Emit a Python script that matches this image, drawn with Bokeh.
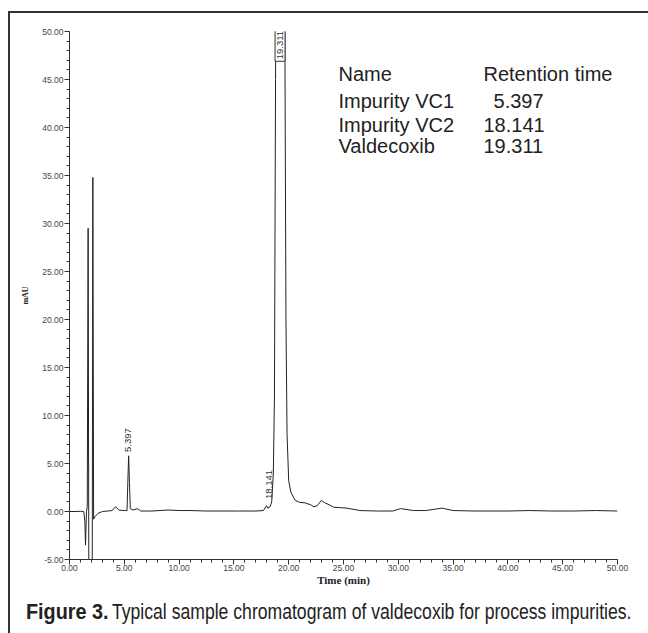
from bokeh.plotting import figure
from bokeh.models import Label, FixedTicker, NumeralTickFormatter, Range1d, Div
from bokeh.layouts import column
from bokeh.embed import file_html
from bokeh.resources import INLINE

# ---- data ----
time_min = [0.0, 0.5, 1.0, 1.30, 1.40, 1.46, 1.55, 1.62, 1.70, 1.77, 2.00, 2.07, 2.13, 2.20,
            2.35, 2.6, 3.0, 3.5, 3.9, 4.2, 4.5, 5.0, 5.25, 5.32, 5.397, 5.47, 5.55, 5.8,
            6.2, 6.5, 7.5, 9.0, 10.0, 11.0, 12.5, 14.0, 15.5, 17.0, 17.7, 17.97, 18.1,
            18.3, 18.45, 18.6, 18.7, 18.8, 18.9, 19.311, 19.55, 19.65, 19.75, 19.85,
            20.0, 20.2, 20.6, 21.0, 21.5, 22.0, 22.3, 22.6, 22.97, 23.3, 23.7, 24.1,
            25.3, 26.5, 28.0, 29.5, 30.2, 31.4, 32.5, 34.0, 35.0, 37.0, 40.0, 42.0,
            44.0, 46.0, 48.0, 50.0]
mau = [0.0, 0.0, 0.02, 0.0, -1.0, -3.5, 0.0, 0.5, 29.5, -10.0, -10.0, -10.0, 34.8, -0.8,
       -0.5, -0.2, 0.0, 0.05, 0.1, 0.5, 0.15, 0.1, 0.1, 3.0, 5.8, 3.0, 0.3, 0.15,
       0.3, 0.05, 0.05, 0.15, 0.1, 0.1, 0.05, 0.05, 0.05, 0.05, 0.1, 0.6, 0.35,
       0.5, 1.0, 4.0, 12.0, 45.0, 80.0, 120.0, 80.0, 50.0, 20.0, 8.0,
       3.2, 2.0, 1.15, 0.95, 0.9, 0.7, 0.5, 0.6, 1.15, 0.9, 0.7, 0.45,
       0.35, 0.1, 0.05, 0.05, 0.3, 0.1, 0.1, 0.35, 0.1, 0.05, 0.05, 0.1,
       0.05, 0.05, 0.1, 0.05]

x_ticks = [0, 5, 10, 15, 20, 25, 30, 35, 40, 45, 50]
y_ticks = [-5, 0, 5, 10, 15, 20, 25, 30, 35, 40, 45, 50]

peak_times = [5.397, 18.141, 19.311]
peak_labels = ["5.397", "18.141", "19.311"]

table_names = ["Impurity VC1", "Impurity VC2", "Valdecoxib"]
table_times = ["5.397", "18.141", "19.311"]

caption_bold = "Figure 3."
caption_rest = "Typical sample chromatogram of valdecoxib for process impurities."

# ---- figure ----
p = figure(width=648, height=595, output_backend="svg", toolbar_location=None,
           x_range=Range1d(0, 50), y_range=Range1d(-5, 50),
           min_border_left=69, min_border_right=31, min_border_top=31,
           min_border_bottom=36)
p.outline_line_color = None
p.grid.visible = False
p.background_fill_color = None
p.border_fill_color = None

p.line(time_min, mau, line_color="#222222", line_width=1)

tick_font = "Liberation Sans"
for ax in (p.xaxis[0], p.yaxis[0]):
    ax.axis_line_color = "#333333"
    ax.major_tick_line_color = "#333333"
    ax.minor_tick_line_color = "#333333"
    ax.major_tick_in = 0
    ax.major_tick_out = 5
    ax.minor_tick_in = 0
    ax.minor_tick_out = 3
    ax.major_label_text_font = tick_font
    ax.major_label_text_font_size = "8.5px"
    ax.major_label_text_color = "#444444"
    ax.formatter = NumeralTickFormatter(format="0.00")
    ax.axis_label_text_font = "Liberation Serif"
    ax.axis_label_text_font_style = "bold"
    ax.axis_label_text_color = "#222222"

p.xaxis.ticker = FixedTicker(ticks=x_ticks, minor_ticks=list(range(0, 51)))
p.yaxis.ticker = FixedTicker(ticks=y_ticks, minor_ticks=list(range(-5, 51)))
p.xaxis.axis_label = "Time (min)"
p.yaxis.axis_label = "mAU"
p.xaxis.axis_label_text_font_size = "11px"
p.yaxis.axis_label_text_font_size = "8px"
p.xaxis.major_label_standoff = 0
p.yaxis.major_label_standoff = 1
p.xaxis.axis_label_standoff = 0
p.yaxis.axis_label_standoff = 9

# peak labels
p.add_layout(Label(x=peak_times[0] - 0.02, y=6.2, text=peak_labels[0], angle=1.5708,
                   text_align="left", text_baseline="middle", text_font=tick_font,
                   text_font_size="9.5px", text_color="#333333"))
p.add_layout(Label(x=peak_times[1] + 0.1, y=1.3, text=peak_labels[1], angle=1.5708,
                   text_align="left", text_baseline="middle", text_font=tick_font,
                   text_font_size="9.5px", text_color="#333333"))
p.add_layout(Label(x=peak_times[2] - 0.1, y=46.9, text=peak_labels[2], angle=1.5708,
                   text_align="left", text_baseline="middle", text_font=tick_font,
                   text_font_size="9.5px", text_color="#333333",
                   background_fill_color="white", border_line_color="#333333",
                   border_line_width=1, padding=2))

# retention-time table
tfont = "Liberation Sans"
head_y = 45.56
p.add_layout(Label(x=24.54, y=head_y, text="Name", text_font=tfont,
                   text_font_size="20px", text_color="#222222", text_baseline="alphabetic"))
p.add_layout(Label(x=37.77, y=head_y, text="Retention time", text_font=tfont,
                   text_font_size="20px", text_color="#222222", text_baseline="alphabetic"))
row_y = [42.81, 40.31, 38.06]
row_tx = [38.69, 37.77, 37.77]
for name, rt, yy, tx in zip(table_names, table_times, row_y, row_tx):
    p.add_layout(Label(x=24.54, y=yy, text=name, text_font=tfont, text_font_size="20px",
                       text_color="#222222", text_baseline="alphabetic"))
    p.add_layout(Label(x=tx, y=yy, text=rt, text_font=tfont, text_font_size="20px",
                       text_color="#222222", text_baseline="alphabetic"))

# caption as HTML below the figure (horizontally condensed like the original typeface)
cap_html = (
    '<span style="display:inline-block;transform:scaleX(0.90);transform-origin:0 0;'
    'font-weight:bold;width:80px;white-space:nowrap">' + caption_bold + '</span>'
    '<span style="display:inline-block;transform:scaleX(0.80);transform-origin:0 0;'
    'white-space:nowrap;margin-left:6px">' + caption_rest + '</span>'
)
cap = Div(text=cap_html, width=648, height=38,
          styles={"font-family": "'Liberation Sans', Arial, sans-serif",
                  "font-size": "22px", "color": "#222222", "padding-left": "21px",
                  "padding-top": "0px", "white-space": "nowrap", "line-height": "24px",
                  "overflow": "hidden"})

layout = column(p, cap, spacing=0, width=648, height=633,
                styles={"background": "linear-gradient(#333,#333) 8px 11px / 2px 100% no-repeat, "
                                      "linear-gradient(#333,#333) 8px 11px / 100% 2px no-repeat",
                        "background-color": "white"})

open("out.html", "w").write(file_html(layout, INLINE))
